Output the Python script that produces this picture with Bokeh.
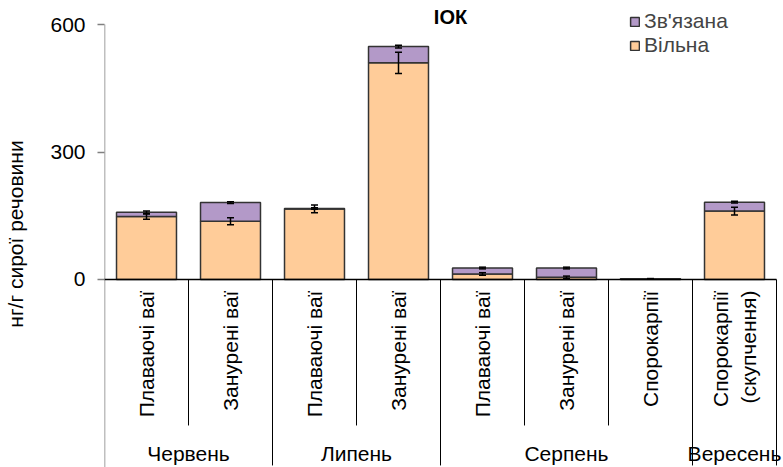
import math
from bokeh.plotting import figure
from bokeh.models import (ColumnDataSource, Range1d, FixedTicker, Whisker, TeeHead,
                          Legend, LegendItem, LinearAxis)
from bokeh.core.properties import value
from bokeh.embed import file_html
from bokeh.resources import INLINE

# --- data -------------------------------------------------------------
samples = ["Плаваючі ваї", "Занурені ваї", "Плаваючі ваї", "Занурені ваї",
           "Плаваючі ваї", "Занурені ваї", "Спорокарпії", "Спорокарпії\n(скупчення)"]
months = ["Червень", "Липень", "Серпень", "Вересень"]
month_sizes = [2, 2, 3, 1]
free = [148, 137, 166, 510, 13, 5, 1, 161]          # Вільна
bound = [10, 44, 1, 38, 14, 22, 1, 21]              # Зв'язана
free_err = [6, 8, 9, 25, 3, 3, 0, 9]
total_err = [3, 2, 2, 3, 2, 2, 0, 2]
y_ticks = [0, 300, 600]

FONT = "Liberation Sans"
ORANGE = "#FFCC99"
PURPLE = "#B399C8"
OUTLINE = "#333333"

# --- geometry in data units (one category = 1 unit on x) ---------------
Y_TOP, Y_BOTTOM = 656.5, -442.4
X_RIGHT = 679 / 84

n = len(samples)
xs = [i + 0.5 for i in range(n)]
total = [f + b for f, b in zip(free, bound)]

src = ColumnDataSource(dict(
    x=xs, free=free, total=total,
    free_up=[f + e for f, e in zip(free, free_err)],
    free_lo=[f - e for f, e in zip(free, free_err)],
    tot_up=[t + e for t, e in zip(total, total_err)],
    tot_lo=[t - e for t, e in zip(total, total_err)],
))

p = figure(width=783, height=467, output_backend="svg", toolbar_location=None,
           x_range=Range1d(0, X_RIGHT), y_range=Range1d(Y_BOTTOM, Y_TOP),
           x_axis_location=None, y_axis_location=None,
           min_border_left=104, min_border_right=0, min_border_top=0, min_border_bottom=0)
p.outline_line_color = None
p.grid.visible = False
p.background_fill_color = "white"

# y axis: ticks and labels, the axis line itself is drawn as a segment
yax = LinearAxis(ticker=FixedTicker(ticks=y_ticks), axis_label="нг/г сирої речовини")
yax.axis_line_color = None
yax.major_tick_out = 7
yax.major_tick_in = 0
yax.minor_tick_line_color = None
yax.major_tick_line_color = "#808080"
yax.major_tick_line_width = 1.5
yax.major_label_standoff = 12
yax.major_label_text_font = FONT
yax.major_label_text_font_size = "21px"
yax.major_label_text_color = "black"
yax.axis_label_text_font = FONT
yax.axis_label_text_font_size = "21px"
yax.axis_label_text_font_style = "normal"
yax.axis_label_text_color = "black"
yax.axis_label_standoff = 20
p.add_layout(yax, "left")

# bars
r_free = p.vbar(x="x", bottom=0, top="free", width=0.714, source=src,
                fill_color=ORANGE, line_color=OUTLINE, line_width=1.5)
r_bound = p.vbar(x="x", bottom="free", top="total", width=0.714, source=src,
                 fill_color=PURPLE, line_color=OUTLINE, line_width=1.5)

# error bars, drawn above the bars
for up, lo in (("free_up", "free_lo"), ("tot_up", "tot_lo")):
    w = Whisker(base="x", upper=up, lower=lo, source=src, dimension="height",
                line_color="black", line_width=1.5, level="overlay",
                upper_head=TeeHead(size=7, line_width=1.5, line_color="black"),
                lower_head=TeeHead(size=7, line_width=1.5, line_color="black"))
    p.add_layout(w)

# axis line above zero, baseline (running through the zero tick) and separators
p.segment(x0=[0], y0=[600], x1=[0], y1=[Y_BOTTOM], line_color="#808080", line_width=1.5)
p.segment(x0=[-7 / 84], y0=[0], x1=[n], y1=[0], line_color="black", line_width=1.5)

bounds = [0]
for s in month_sizes:
    bounds.append(bounds[-1] + s)
long_x = bounds[1:]
short_x = [i for i in range(1, n) if i not in bounds]
p.segment(x0=long_x, y0=[0] * len(long_x), x1=long_x, y1=[-437.6] * len(long_x),
          line_color="black", line_width=1)
p.segment(x0=short_x, y0=[0] * len(short_x), x1=short_x, y1=[-343.5] * len(short_x),
          line_color="black", line_width=1)

# rotated sample labels
p.text(x=xs, y=[-26] * n, text=samples, angle=math.pi / 2,
       text_align="right", text_baseline="middle",
       text_font=value(FONT), text_font_size="21px", text_color="black")

# month labels, centred under their groups
mx = [(bounds[i] + bounds[i + 1]) / 2 for i in range(len(months))]
p.text(x=mx, y=[-409.4] * len(months), text=months,
       text_align="center", text_baseline="middle",
       text_font=value(FONT), text_font_size="21px", text_color="black")

# title
p.text(x=[(450 - 104) / 84], y=[616.5], text=["ІОК"],
       text_align="center", text_baseline="middle",
       text_font=value(FONT), text_font_size="20px", text_font_style="bold",
       text_color="black")

legend = Legend(items=[LegendItem(label="Зв'язана", renderers=[r_bound]),
                       LegendItem(label="Вільна", renderers=[r_free])],
                location=(525, 410), orientation="vertical",
                padding=0, margin=0, spacing=-3,
                glyph_width=11, glyph_height=11, label_height=20,
                label_standoff=4,
                label_text_font=FONT, label_text_font_size="21px",
                border_line_color=None, background_fill_alpha=0)
p.add_layout(legend)

open("out.html", "w").write(file_html(p, INLINE))
